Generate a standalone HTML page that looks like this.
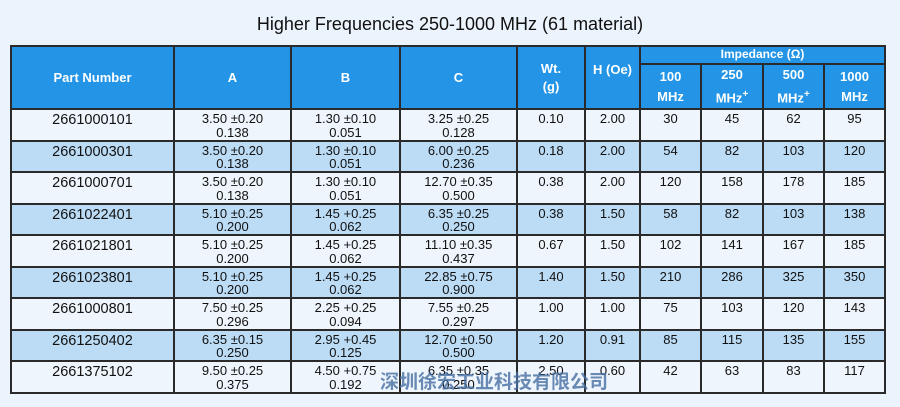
<!DOCTYPE html>
<html><head><meta charset="utf-8"><style>
body{margin:0;width:900px;height:407px;background:#ebf3fc;font-family:"Liberation Sans",sans-serif;position:relative;overflow:hidden}
.t{position:absolute;top:14px;left:0;width:900px;text-align:center;font-size:18px;color:#111}
table{position:absolute;left:10px;top:45px;border-collapse:collapse;table-layout:fixed}
td{border:2px solid #2a2a2a;text-align:center;font-size:13px;color:#111;padding:0;line-height:13.5px;vertical-align:top;box-sizing:content-box}
.h td{background:#2394e6;color:#fff;font-weight:bold;font-size:13px;vertical-align:middle}
tr.r td{height:27.5px;padding-top:2px;overflow:hidden}
tr.r td:first-child{font-size:14.5px;padding-top:4px;height:25.5px}
tr.b td{background:#bcdcf6}
tr.w td{background:#eef5fc}
.wm{position:absolute;left:380px;top:367px;font-family:"Noto Sans CJK SC",sans-serif;font-weight:bold;font-size:19px;color:rgba(70,110,160,0.8)}
sup{font-size:10px}
</style></head><body>
<div class="t">Higher Frequencies 250-1000 MHz (61 material)</div>
<table>
<colgroup><col style="width:163px"><col style="width:117px"><col style="width:109px"><col style="width:117px"><col style="width:68px"><col style="width:55px"><col style="width:61px"><col style="width:62px"><col style="width:61px"><col style="width:61px"></colgroup>
<tr class="h"><td rowspan="2" style="height:60px">Part Number</td><td rowspan="2">A</td><td rowspan="2">B</td><td rowspan="2">C</td><td rowspan="2" style="line-height:18px">Wt.<br>(g)</td><td rowspan="2" style="vertical-align:top;padding-top:16px">H (Oe)</td><td colspan="4" style="height:16px;font-size:12px">Impedance (Ω)</td></tr>
<tr class="h"><td style="line-height:20px;height:42px">100<br>MHz</td><td style="line-height:20px">250<br>MHz<sup>+</sup></td><td style="line-height:20px">500<br>MHz<sup>+</sup></td><td style="line-height:20px">1000<br>MHz</td></tr>
<tr class="r w"><td>2661000101</td><td>3.50 ±0.20<br>0.138</td><td>1.30 ±0.10<br>0.051</td><td>3.25 ±0.25<br>0.128</td><td>0.10</td><td>2.00</td><td>30</td><td>45</td><td>62</td><td>95</td></tr>
<tr class="r b"><td>2661000301</td><td>3.50 ±0.20<br>0.138</td><td>1.30 ±0.10<br>0.051</td><td>6.00 ±0.25<br>0.236</td><td>0.18</td><td>2.00</td><td>54</td><td>82</td><td>103</td><td>120</td></tr>
<tr class="r w"><td>2661000701</td><td>3.50 ±0.20<br>0.138</td><td>1.30 ±0.10<br>0.051</td><td>12.70 ±0.35<br>0.500</td><td>0.38</td><td>2.00</td><td>120</td><td>158</td><td>178</td><td>185</td></tr>
<tr class="r b"><td>2661022401</td><td>5.10 ±0.25<br>0.200</td><td>1.45 +0.25<br>0.062</td><td>6.35 ±0.25<br>0.250</td><td>0.38</td><td>1.50</td><td>58</td><td>82</td><td>103</td><td>138</td></tr>
<tr class="r w"><td>2661021801</td><td>5.10 ±0.25<br>0.200</td><td>1.45 +0.25<br>0.062</td><td>11.10 ±0.35<br>0.437</td><td>0.67</td><td>1.50</td><td>102</td><td>141</td><td>167</td><td>185</td></tr>
<tr class="r b"><td>2661023801</td><td>5.10 ±0.25<br>0.200</td><td>1.45 +0.25<br>0.062</td><td>22.85 ±0.75<br>0.900</td><td>1.40</td><td>1.50</td><td>210</td><td>286</td><td>325</td><td>350</td></tr>
<tr class="r w"><td>2661000801</td><td>7.50 ±0.25<br>0.296</td><td>2.25 +0.25<br>0.094</td><td>7.55 ±0.25<br>0.297</td><td>1.00</td><td>1.00</td><td>75</td><td>103</td><td>120</td><td>143</td></tr>
<tr class="r b"><td>2661250402</td><td>6.35 ±0.15<br>0.250</td><td>2.95 +0.45<br>0.125</td><td>12.70 ±0.50<br>0.500</td><td>1.20</td><td>0.91</td><td>85</td><td>115</td><td>135</td><td>155</td></tr>
<tr class="r w"><td>2661375102</td><td>9.50 ±0.25<br>0.375</td><td>4.50 +0.75<br>0.192</td><td>6.35 ±0.35<br>0.250</td><td>2.50</td><td>0.60</td><td>42</td><td>63</td><td>83</td><td>117</td></tr>
</table>
<div class="wm">深圳徐宏工业科技有限公司</div>
</body></html>
